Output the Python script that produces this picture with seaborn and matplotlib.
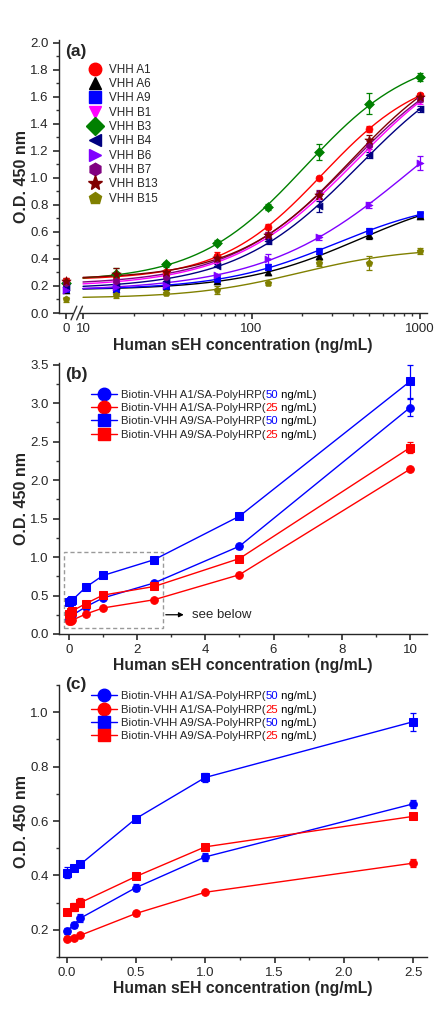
import numpy as np
import pandas as pd
import matplotlib
matplotlib.use("Agg")
import matplotlib.pyplot as plt
import seaborn as sns
from matplotlib.lines import Line2D
from matplotlib.patches import Rectangle
from matplotlib.ticker import MultipleLocator, FixedLocator, NullFormatter

# ---------------- data ----------------
# panel (a)
conc_a = [0, 15.6, 31.25, 62.5, 125, 250, 500, 1000]
vhh_names = ["VHH A1", "VHH A6", "VHH A9", "VHH B1", "VHH B3",
             "VHH B4", "VHH B6", "VHH B7", "VHH B13", "VHH B15"]
od_A1 = [0.24, 0.28, 0.30, 0.42, 0.64, 1.00, 1.36, 1.61]
od_A6 = [0.17, 0.18, 0.20, 0.24, 0.30, 0.42, 0.58, 0.72]
od_A9 = [0.18, 0.18, 0.20, 0.25, 0.34, 0.46, 0.61, 0.73]
od_B1 = [0.21, 0.22, 0.26, 0.38, 0.57, 0.86, 1.21, 1.57]
od_B3 = [0.22, 0.29, 0.36, 0.52, 0.785, 1.19, 1.55, 1.745]
od_B4 = [0.19, 0.20, 0.24, 0.35, 0.53, 0.79, 1.17, 1.51]
od_B6 = [0.17, 0.19, 0.21, 0.28, 0.40, 0.56, 0.80, 1.11]
od_B7 = [0.22, 0.24, 0.27, 0.40, 0.58, 0.88, 1.24, 1.58]
od_B13 = [0.24, 0.29, 0.30, 0.41, 0.58, 0.87, 1.28, 1.60]
od_B15 = [0.10, 0.13, 0.15, 0.17, 0.22, 0.37, 0.37, 0.46]
err_A1 = [0.02, 0.02, 0.02, 0.03, 0.02, 0.01, 0.02, 0.02]
err_A6 = [0.01, 0.01, 0.01, 0.01, 0.02, 0.02, 0.03, 0.02]
err_A9 = [0.01, 0.01, 0.01, 0.01, 0.02, 0.02, 0.02, 0.02]
err_B1 = [0.01, 0.01, 0.01, 0.02, 0.02, 0.02, 0.03, 0.02]
err_B3 = [0.02, 0.04, 0.02, 0.02, 0.02, 0.06, 0.08, 0.03]
err_B4 = [0.01, 0.01, 0.01, 0.01, 0.02, 0.04, 0.02, 0.02]
err_B6 = [0.01, 0.01, 0.01, 0.01, 0.04, 0.02, 0.02, 0.05]
err_B7 = [0.01, 0.01, 0.01, 0.02, 0.02, 0.03, 0.03, 0.02]
err_B13 = [0.02, 0.04, 0.02, 0.02, 0.02, 0.03, 0.04, 0.02]
err_B15 = [0.02, 0.02, 0.02, 0.03, 0.01, 0.02, 0.05, 0.02]

# panels (b) and (c)
conc_bc = [0, 0.05, 0.1, 0.5, 1, 2.5, 5, 10]
bio_names = ["Biotin-VHH A1/SA-PolyHRP(50 ng/mL)", "Biotin-VHH A1/SA-PolyHRP(25 ng/mL)",
             "Biotin-VHH A9/SA-PolyHRP(50 ng/mL)", "Biotin-VHH A9/SA-PolyHRP(25 ng/mL)"]
od_A1_50 = [0.195, 0.218, 0.243, 0.355, 0.468, 0.663, 1.14, 2.94]
od_A1_25 = [0.168, 0.170, 0.180, 0.260, 0.338, 0.445, 0.77, 2.14]
od_A9_50 = [0.410, 0.428, 0.441, 0.609, 0.760, 0.965, 1.53, 3.28]
od_A9_25 = [0.265, 0.285, 0.300, 0.396, 0.505, 0.617, 0.98, 2.42]
err_A1_50 = [0.01, 0.012, 0.015, 0.012, 0.014, 0.015, 0.03, 0.11]
err_A1_25 = [0.01, 0.008, 0.008, 0.010, 0.008, 0.015, 0.02, 0.02]
err_A9_50 = [0.02, 0.010, 0.008, 0.006, 0.016, 0.033, 0.02, 0.21]
err_A9_25 = [0.005, 0.015, 0.017, 0.008, 0.007, 0.006, 0.02, 0.07]

# ---------------- style ----------------
sns.set_theme(style="ticks")
plt.rcParams["font.family"] = ["Liberation Sans", "DejaVu Sans"]
plt.rcParams["axes.linewidth"] = 1.0
plt.rcParams["xtick.major.size"] = 4.5
plt.rcParams["ytick.major.size"] = 4.5
plt.rcParams["xtick.minor.size"] = 2.5
plt.rcParams["ytick.minor.size"] = 2.5
plt.rcParams["xtick.labelsize"] = 9.5
plt.rcParams["ytick.labelsize"] = 9.5
plt.rcParams["xtick.major.pad"] = 2.5
plt.rcParams["ytick.major.pad"] = 3

RED, BLUE = "#ff0000", "#0000ff"
vhh_colors = ["#ff0000", "#000000", "#0000ff", "#ff00ff", "#008000",
              "#000080", "#8000ff", "#800080", "#800000", "#808000"]
vhh_markers = ["o", "^", "s", "v", "D", "<", ">", "h", "*", "p"]

fig = plt.figure(figsize=(4.48, 10.10), dpi=100)
W, H = 448, 1010
def axes_px(l, t, r, b):
    return fig.add_axes([l / W, 1 - b / H, (r - l) / W, (b - t) / H])

ax_a = axes_px(59, 40, 427, 313)
ax_b = axes_px(59, 363, 427, 634)
ax_c = axes_px(59, 685, 427, 957)

for ax in (ax_a, ax_b, ax_c):
    sns.despine(ax=ax)
    ax.set_ylabel("O.D. 450 nm", fontsize=11.5, fontweight="bold", labelpad=4)
    ax.set_xlabel("Human sEH concentration (ng/mL)", fontsize=11.3, fontweight="bold", labelpad=1)
    ax.tick_params(which="both", direction="out", color="#333333")

# ---------------- panel (a) ----------------
ZERO_POS = 7.9  # position of 0 on the broken log axis


def fit4pl(x, y):
    x = np.asarray(x, float)
    y = np.asarray(y, float)

    def f(p, xx):
        a, d, lc, b = p
        r = np.where(xx > 0, (np.maximum(xx, 1e-12) / 10 ** lc) ** b, 0.0)
        return d + (a - d) / (1 + r)

    p = np.array([y.min(), y.max() * 1.3, np.log10(300), 1.5])
    lam = 1e-2
    sse = np.sum((y - f(p, x)) ** 2)
    for _ in range(800):
        r = y - f(p, x)
        J = np.zeros((len(x), 4))
        for k in range(4):
            dp = np.zeros(4)
            dp[k] = 1e-6
            J[:, k] = (f(p + dp, x) - f(p - dp, x)) / 2e-6
        A = J.T @ J
        g = J.T @ r
        try:
            step = np.linalg.solve(A + lam * np.diag(np.diag(A) + 1e-9), g)
        except np.linalg.LinAlgError:
            break
        pn = p + step
        pn[3] = np.clip(pn[3], 0.3, 6)
        pn[2] = np.clip(pn[2], 0.5, 5)
        sn = np.sum((y - f(pn, x)) ** 2)
        if sn < sse:
            p, sse = pn, sn
            lam = max(lam / 3, 1e-9)
        else:
            lam *= 3
    return lambda xx: f(p, xx)


series_a = [od_A1, od_A6, od_A9, od_B1, od_B3, od_B4, od_B6, od_B7, od_B13, od_B15]
errs_a = [err_A1, err_A6, err_A9, err_B1, err_B3, err_B4, err_B6, err_B7, err_B13, err_B15]
xplot_a = np.array([ZERO_POS if c == 0 else c for c in conc_a])
xs = np.logspace(1, 3, 200)
ax_a.set_xscale("log")
handles_a = []
for name, yv, ev, col, mk in zip(vhh_names, series_a, errs_a, vhh_colors, vhh_markers):
    model = fit4pl(conc_a, yv)
    sns.lineplot(x=xs, y=model(xs), ax=ax_a, color=col, lw=1.0, sort=False,
                 estimator=None, legend=False, zorder=2)
    ax_a.errorbar(xplot_a, yv, yerr=ev, fmt="none", ecolor=col, elinewidth=0.9,
                  capsize=2.5, capthick=0.9, zorder=3)
    ms = 7 if mk == "*" else 5
    sns.scatterplot(x=xplot_a, y=yv, ax=ax_a, color=col, marker=mk, s=ms ** 2 * 1.0,
                    edgecolor=col, linewidth=0.5, legend=False, zorder=4)
    handles_a.append(Line2D([], [], ls="none", marker=mk, color=col,
                            markersize=11 if mk == "*" else 9, markeredgecolor=col))

ax_a.set_xlim(7.2, 1100)
ax_a.set_ylim(0, 2.02)
ax_a.xaxis.set_major_locator(FixedLocator([ZERO_POS, 10, 100, 1000]))
ax_a.set_xticklabels(["0", "10", "100", "1000"])
minor = [m * 10 ** e for e in (1, 2) for m in range(2, 10)]
ax_a.xaxis.set_minor_locator(FixedLocator(minor))
ax_a.xaxis.set_minor_formatter(NullFormatter())
ax_a.yaxis.set_major_locator(MultipleLocator(0.2))
ax_a.yaxis.set_minor_locator(MultipleLocator(0.1))
ax_a.yaxis.set_major_formatter(matplotlib.ticker.FormatStrFormatter("%.1f"))
# axis break marks
brk = ax_a.get_xaxis_transform()
ax_a.add_patch(Rectangle((8.75, -0.02), 0.9, 0.04, transform=brk, facecolor="white",
                         edgecolor="none", clip_on=False, zorder=5))
for xb in (8.75, 9.45):
    ax_a.plot([xb * 0.97, xb * 1.05], [-0.025, 0.025], transform=brk, color="#333333",
              lw=1.0, clip_on=False, zorder=6)
ax_a.text(0.017, 0.985, "(a)", transform=ax_a.transAxes, fontsize=12.5, fontweight="bold",
          va="top", ha="left")
ax_a.legend(handles_a, vhh_names, loc="upper left", bbox_to_anchor=(0.068, 0.93),
            frameon=False, fontsize=8.4, handlelength=1.0, handletextpad=0.75,
            labelspacing=0.2, borderaxespad=0)

# ---------------- panels (b) and (c) ----------------
series_bc = [od_A1_50, od_A1_25, od_A9_50, od_A9_25]
errs_bc = [err_A1_50, err_A1_25, err_A9_50, err_A9_25]
cols_bc = [BLUE, RED, BLUE, RED]
mks_bc = ["o", "o", "s", "s"]
LEG_FS = 8.2


def draw_bc(ax, xmax):
    handles = []
    for name, yv, ev, col, mk in zip(bio_names, series_bc, errs_bc, cols_bc, mks_bc):
        df = pd.DataFrame({"x": conc_bc, "y": yv, "e": ev})
        df = df[df["x"] <= xmax]
        ax.errorbar(df["x"], df["y"], yerr=df["e"], fmt="none", ecolor=col,
                    elinewidth=0.9, capsize=2.5, capthick=0.9, zorder=3)
        sns.lineplot(data=df, x="x", y="y", ax=ax, color=col, lw=1.0, marker=mk,
                     markersize=5.5, markeredgecolor=col, estimator=None, legend=False,
                     zorder=4)
        handles.append(Line2D([], [], color=col, lw=1.0, marker=mk, markersize=9,
                              markeredgecolor=col))
    return handles


def bc_legend(ax, handles, anchor):
    prefixes = [n.split("(")[0] + "(" for n in bio_names]
    leg = ax.legend(handles, prefixes, loc="upper left", bbox_to_anchor=anchor,
                    frameon=False, fontsize=LEG_FS, handlelength=2.3, handletextpad=0.3,
                    labelspacing=0.29, borderaxespad=0)
    return leg


hb = draw_bc(ax_b, 10)
ax_b.set_xlim(-0.29, 10.5)
ax_b.set_ylim(0, 3.52)
ax_b.xaxis.set_major_locator(MultipleLocator(2))
ax_b.xaxis.set_minor_locator(MultipleLocator(1))
ax_b.yaxis.set_major_locator(MultipleLocator(0.5))
ax_b.yaxis.set_minor_locator(MultipleLocator(0.25))
ax_b.yaxis.set_major_formatter(matplotlib.ticker.FormatStrFormatter("%.1f"))
ax_b.add_patch(Rectangle((-0.15, 0.075), 2.9, 0.985, fill=False, ls=(0, (3, 2)),
                         edgecolor="#999999", lw=1.0, zorder=1))
ax_b.annotate("", xy=(3.45, 0.25), xytext=(2.76, 0.25),
              arrowprops=dict(arrowstyle="-|>", color="black", lw=0.9,
                              mutation_scale=7))
ax_b.text(3.6, 0.25, "see below", fontsize=9.5, va="center", ha="left")
ax_b.text(0.017, 0.985, "(b)", transform=ax_b.transAxes, fontsize=12.5, fontweight="bold",
          va="top", ha="left")
leg_b = bc_legend(ax_b, hb, (0.075, 0.918))

hc = draw_bc(ax_c, 2.5)
ax_c.set_xlim(-0.055, 2.6)
ax_c.set_ylim(0.1, 1.1)
ax_c.xaxis.set_major_locator(MultipleLocator(0.5))
ax_c.xaxis.set_minor_locator(MultipleLocator(0.25))
ax_c.yaxis.set_major_locator(FixedLocator([0.2, 0.4, 0.6, 0.8, 1.0]))
ax_c.yaxis.set_minor_locator(FixedLocator([0.1, 0.3, 0.5, 0.7, 0.9, 1.1]))
ax_c.yaxis.set_major_formatter(matplotlib.ticker.FormatStrFormatter("%.1f"))
ax_c.xaxis.set_major_formatter(matplotlib.ticker.FormatStrFormatter("%.1f"))
ax_c.text(0.017, 1.03, "(c)", transform=ax_c.transAxes, fontsize=12.5, fontweight="bold",
          va="top", ha="left")
leg_c = bc_legend(ax_c, hc, (0.075, 0.993))

# label positions
for ax in (ax_a, ax_b, ax_c):
    ax.yaxis.set_label_coords(-0.082, 0.5)
    ax.xaxis.set_label_coords(0.5, -0.09)

# coloured concentration numbers in the (b)/(c) legends
fig.canvas.draw()
for leg in (leg_b, leg_c):
    ax = leg.axes
    for txt, col, name in zip(leg.get_texts(), cols_bc, bio_names):
        num = name.split("(")[1].split(" ")[0]
        a1 = ax.annotate(num, xy=(1, 0), xycoords=txt, va="bottom", ha="left",
                         fontsize=LEG_FS, color=col, zorder=10, annotation_clip=False)
        ax.annotate(" ng/mL)", xy=(1, 0), xycoords=a1, va="bottom", ha="left",
                    fontsize=LEG_FS, color="black", zorder=11, annotation_clip=False)

fig.savefig("out.png", dpi=100)
